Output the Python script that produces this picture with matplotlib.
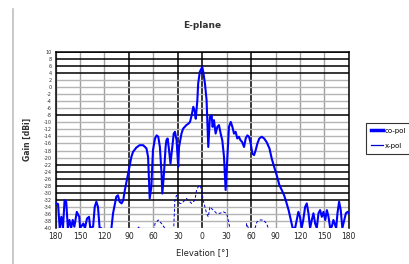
import numpy as np
import matplotlib
matplotlib.use("Agg")
import matplotlib.pyplot as plt
from matplotlib.lines import Line2D

# co-pol trace (elevation in deg, gain in dBi)
co_angle = [-180, -179, -177, -175, -173, -171, -169, -167, -165, -163, -161, -159, -157,
            -154, -151, -150, -146, -144, -141.5, -139, -137.5, -134, -132, -130, -128,
            -126, -124, -120, -115, -111.5, -109.5, -105.5, -103.5, -101.5, -99, -97, -95,
            -93, -91, -89, -87, -85, -81, -77, -72.5, -68.5, -66.5, -64.5, -62.5, -60.5,
            -58, -56, -54, -52, -50, -49, -47, -45, -44, -42.5, -41, -39, -37, -35, -33.5,
            -31.5, -29.5, -28.5, -25.5, -23.5, -21.5, -19.5, -17, -15, -13, -11, -9, -8,
            -6, -5, -3, 0, 1.2, 3.3, 5.3, 7.4, 9.4, 11.5, 12.7, 14.4, 16.4, 18.5, 20.5,
            22.6, 24.6, 26.7, 28.7, 30.8, 32.8, 35, 37, 39, 41, 43, 45, 47, 49, 51.3, 53.3,
            55.4, 57.4, 59.5, 61.5, 63.6, 65.6, 67.7, 70, 73, 76, 79, 82.5, 85.3, 88.2,
            91.4, 94.7, 97.6, 100.5, 103, 106, 108.7, 111, 114, 116, 118, 120, 122, 124,
            126.3, 128.3, 130.4, 132.4, 134.5, 136.5, 138.6, 140.6, 142.7, 144.7, 146.8,
            148.8, 151, 153, 155, 157, 159, 161, 164.4, 166, 168, 170, 172, 174.3, 176.3,
            178.4, 180]
co_gain = [-33.0, -33.0, -33.2, -40, -36.8, -40, -32.1, -32.5, -40, -37.7, -40, -37.7, -39.6,
           -35.4, -36.8, -40, -38.7, -40, -37.3, -36.8, -40, -39.6, -34.0, -32.5, -34.0,
           -40, -40, -48, -48, -40, -35.8, -31.1, -30.7, -32.5, -33.0, -32.1, -29.2,
           -26.9, -24.5, -22.2, -19.8, -18.4, -17.2, -16.5, -16.5, -17.4, -19.8, -31.6, -28.3, -17.9,
           -14.6, -13.7, -14.1, -17.0, -24.5, -30.2, -24.5, -17.0, -15.1, -14.6, -17.4, -21.7, -17.4, -13.2, -12.7,
           -15.1, -22.6, -17.0, -13.2, -11.8, -11.3, -10.8, -10.4, -9.9, -8.0, -5.6, -7.1, -9.0,
           -3.7, 1.0, 4.3, 5.7, 4.3, 1.0, -3.7, -17.0, -8.5, -8.0, -11.3, -9.4, -13.2, -11.3, -10.8,
           -13.2, -15.1, -19.8, -29.2, -19.8, -11.3, -9.9, -11.3, -13.2, -12.7, -14.6, -14.1, -15.1, -15.6, -17.0, -14.6,
           -13.7, -14.1, -16.0, -18.9, -19.3, -17.9, -16.0, -14.6, -14.1, -14.6, -15.6, -17.4, -20.3, -22.6,
           -25.0, -27.8, -29.2, -30.7, -32.5, -34.9, -37.7, -40, -40, -37.7, -35.4, -36.8, -40, -37.7,
           -34.0, -33.0, -35.8, -40, -37.7, -35.8, -38.7, -40, -35.8, -34.9, -36.8,
           -35.4, -37.7, -34.9, -36.8, -40, -39.6, -37.7, -40, -35.8, -32.5, -34.9, -40, -37.7, -35.8,
           -35.4, -35.8]

# x-pol trace
x_angle = [-180, -81, -79, -77, -75, -60, -58, -54, -50, -46, -42, -38, -35, -33.6, -31.6,
           -29.5, -27.5, -25.4, -21.3, -19.3, -17.2, -13.1, -9, -7, -4.9, -2.9, -0.8, 1.2,
           3.3, 5.3, 7.4, 9.4, 13.5, 17.6, 21.7, 25.8, 30, 34, 38, 52.5, 54.5, 56.6, 60.7,
           64.8, 67, 71, 75, 79, 81, 85, 180]
x_gain = [-45, -45, -40, -39.5, -45, -42, -38.7, -37.7, -38.7, -40, -45, -45, -40, -32.1, -30.7,
          -32.5, -33.0, -33.0, -32.1, -31.6, -32.1, -33.0, -32.1, -29.2, -28.3, -27.8, -29.2, -32.1,
          -34.0, -35.8, -36.8, -34.0, -34.9, -35.8, -35.8, -35.4, -35.8, -40, -45, -45, -38.7, -40, -45,
          -40, -38.3, -37.7, -37.7, -38.7, -40, -45, -45]

x_ticks = [-180, -150, -120, -90, -60, -30, 0, 30, 60, 90, 120, 150, 180]
x_labels = [str(abs(t)) for t in x_ticks]
y_ticks = list(range(-40, 11, 2))
dark_x = [-90, -30, 0, 60]
dark_y = [-32, -30, -28, -26, -24, -22, -8, 4, 6, 8, 10]

fig = plt.figure(figsize=(4.09, 2.64), dpi=100)
ax = fig.add_axes([0.136, 0.136, 0.717, 0.668])

for t in x_ticks:
    if t in dark_x:
        ax.axvline(t, color="black", lw=1.1, zorder=1)
    else:
        ax.axvline(t, color="#a0a0a0", lw=1.0, zorder=1)
for v in y_ticks:
    if v in dark_y:
        ax.axhline(v, color="black", lw=1.1, zorder=1)
    else:
        ax.axhline(v, color="#b4b4b4", lw=1.0, zorder=1)

ax.plot(co_angle, co_gain, color="#0000ff", lw=1.5, zorder=3, label="co-pol")
ax.plot(x_angle, x_gain, color="#0000cc", lw=0.7, ls=(0, (3, 2)), zorder=2)

ax.set_xlim(-180, 180)
ax.set_ylim(-40, 10)
ax.set_xticks(x_ticks)
ax.set_xticklabels(x_labels, fontsize=5.5, color="#222222")
ax.set_yticks(y_ticks)
ax.set_yticklabels([str(v) for v in y_ticks], fontsize=3.5, color="#333333")
ax.tick_params(length=0, pad=3)
for s in ["top", "left", "right"]:
    ax.spines[s].set_color("black")
    ax.spines[s].set_linewidth(1.1)
ax.spines["bottom"].set_visible(False)

ax.set_title("E-plane", fontsize=6.5, fontweight="bold", color="#333333", pad=17)
ax.set_xlabel("Elevation [°]", fontsize=6, color="#222222", labelpad=5)
ax.set_ylabel("Gain [dBi]", fontsize=5.5, fontweight="bold", color="#333333", labelpad=8)

handles = [Line2D([], [], color="#0000ff", lw=2.5),
           Line2D([], [], color="#0000cc", lw=0.9)]
leg = fig.legend(handles, ["co-pol", "x-pol"], loc="upper left",
                 bbox_to_anchor=(366 / 409, 1 - 123 / 264), fontsize=5,
                 frameon=True, fancybox=False, edgecolor="black",
                 handlelength=1.7, handletextpad=0.3, borderpad=0.7,
                 labelspacing=1.3, borderaxespad=0)
leg.get_frame().set_linewidth(0.8)

# page border on the left
fig.add_artist(Line2D([12.5 / 409, 12.5 / 409], [0, 1 - 9 / 264],
                      color="#c0c0c0", lw=1.2, transform=fig.transFigure))

fig.savefig("out.png", dpi=100)
